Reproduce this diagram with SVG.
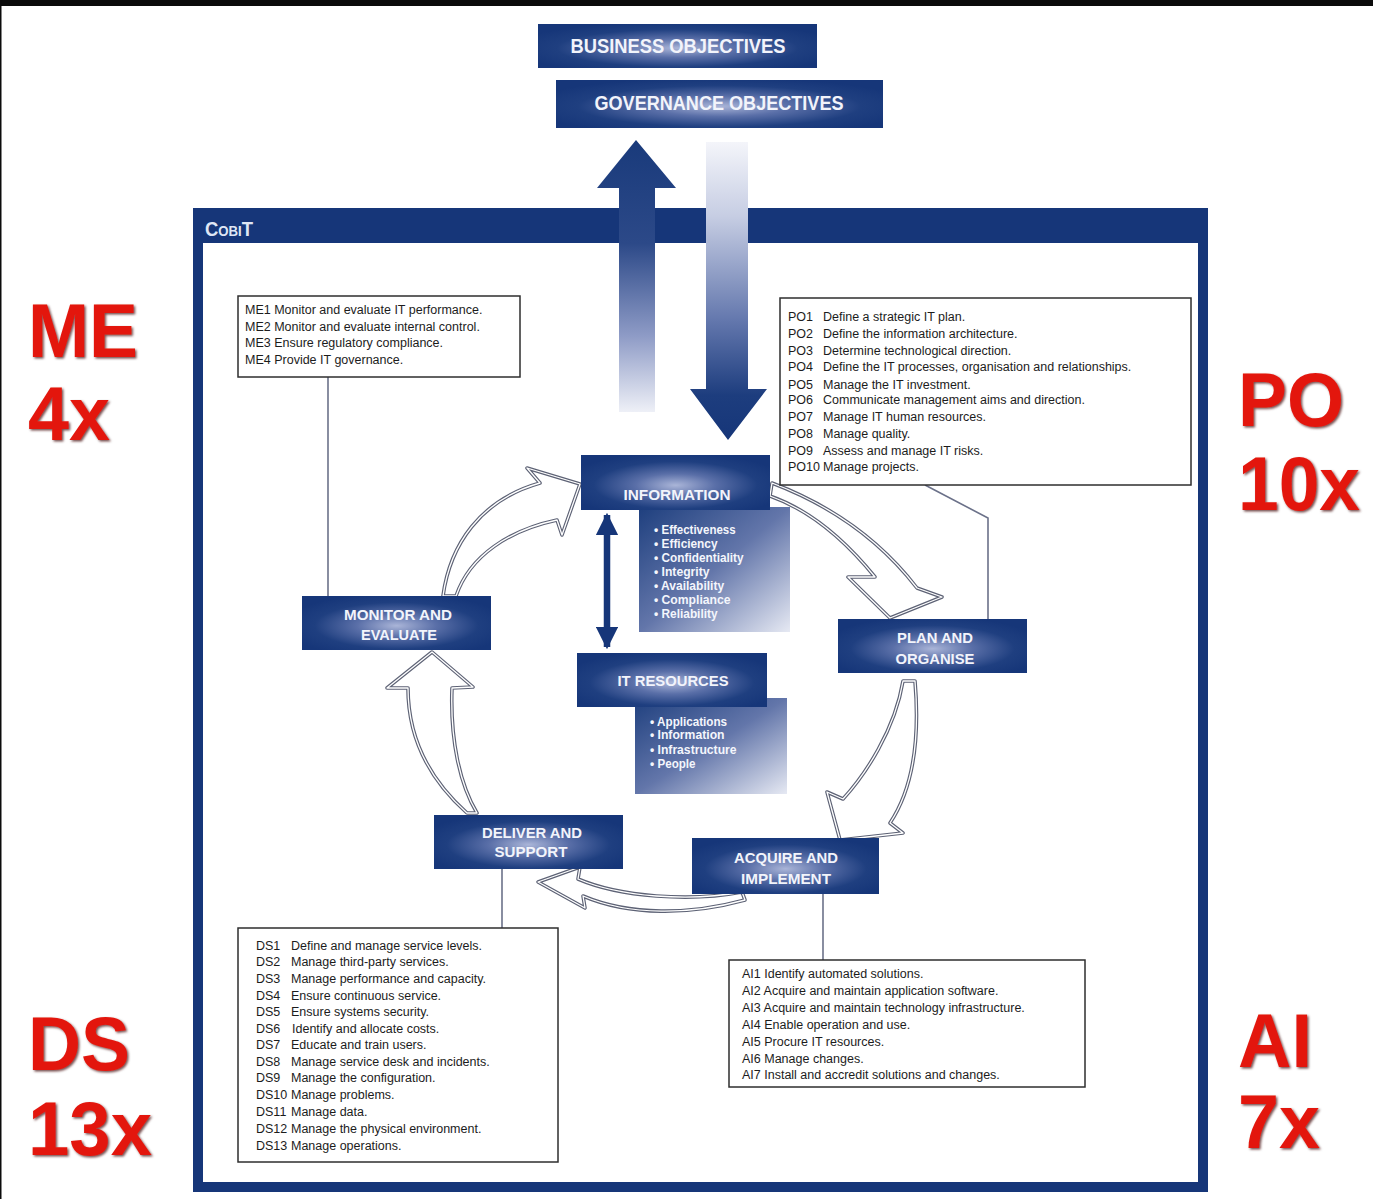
<svg xmlns="http://www.w3.org/2000/svg" width="1373" height="1199" viewBox="0 0 1373 1199">
<defs>
<radialGradient id="boxGrad" cx="50%" cy="55%" r="60%">
<stop offset="0" stop-color="#aab5d8"/>
<stop offset="0.35" stop-color="#5a6fa8"/>
<stop offset="0.72" stop-color="#1f3f80"/>
<stop offset="1" stop-color="#163679"/>
</radialGradient>
<linearGradient id="subGrad" x1="0" y1="0" x2="1" y2="1">
<stop offset="0" stop-color="#1e3f7e"/>
<stop offset="0.5" stop-color="#6376aa"/>
<stop offset="1" stop-color="#e6e9f3"/>
</linearGradient>
<linearGradient id="upGrad" gradientUnits="userSpaceOnUse" x1="0" y1="140" x2="0" y2="412">
<stop offset="0" stop-color="#193a7b"/>
<stop offset="0.38" stop-color="#2c4988"/>
<stop offset="0.72" stop-color="#8e9bc6"/>
<stop offset="1" stop-color="#eef0f7"/>
</linearGradient>
<linearGradient id="downGrad" gradientUnits="userSpaceOnUse" x1="0" y1="142" x2="0" y2="440">
<stop offset="0" stop-color="#f4f5fa"/>
<stop offset="0.25" stop-color="#c6cde3"/>
<stop offset="0.6" stop-color="#6377ad"/>
<stop offset="0.85" stop-color="#1d3d7e"/>
<stop offset="1" stop-color="#163679"/>
</linearGradient>
<filter id="shadow" x="-10%" y="-10%" width="130%" height="130%">
<feDropShadow dx="1.5" dy="1.5" stdDeviation="1" flood-color="#3a0000" flood-opacity="0.7"/>
</filter>
<marker id="dblHead" viewBox="0 0 10 10" refX="9" refY="5" markerWidth="3.4" markerHeight="3.4" orient="auto-start-reverse">
<path d="M0,0 L10,5 L0,10 Z" fill="#163679"/>
</marker>
</defs>
<style>
.navy{fill:url(#boxGrad);}
.sub{fill:url(#subGrad);}
.lbl{font-family:"Liberation Sans",Arial,sans-serif;font-weight:bold;fill:#f2f4fb;text-anchor:middle;}
.bul{font-family:"Liberation Sans",Arial,sans-serif;font-weight:bold;fill:#f4f6fc;font-size:12px;}
.list{fill:#ffffff;stroke:#2e2e2e;stroke-width:1.5;}
.lt{font-family:"Liberation Sans",Arial,sans-serif;fill:#1c1c1c;font-size:12.5px;}
.conn{fill:none;stroke:#6b7189;stroke-width:1.6;}
.cyc{fill:#ffffff;stroke:#5d6275;stroke-width:3.6;stroke-linejoin:round;}
.cycin{fill:none;stroke:#ffffff;stroke-width:1.3;stroke-linejoin:round;}
.big{font-family:"Liberation Sans",Arial,sans-serif;font-weight:bold;font-size:76px;fill:#e3170d;filter:url(#shadow);}
</style>
<rect x="0" y="0" width="1373" height="1199" fill="#ffffff"/>
<rect x="0" y="0" width="1373" height="6" fill="#0b0b0b"/>
<rect x="0" y="0" width="1.5" height="1199" fill="#0b0b0b"/>

<g id="cobit-frame">
<rect x="198" y="213" width="1005" height="974" fill="#ffffff" stroke="#163679" stroke-width="10"/>
<rect x="193" y="208" width="1015" height="35" fill="#163679"/>
<text x="205" y="236" font-family="Liberation Sans,Arial,sans-serif" font-weight="bold" font-size="21" fill="#dfe6f5" font-variant="small-caps" textLength="48" lengthAdjust="spacingAndGlyphs">CobiT</text>
</g>

<g id="labels">
<text class="big" x="28" y="357" textLength="110" lengthAdjust="spacingAndGlyphs">ME</text>
<text class="big" x="28" y="440" textLength="82" lengthAdjust="spacingAndGlyphs">4x</text>
<text class="big" x="1238" y="426" textLength="106" lengthAdjust="spacingAndGlyphs">PO</text>
<text class="big" x="1238" y="510" textLength="122" lengthAdjust="spacingAndGlyphs">10x</text>
<text class="big" x="28" y="1070" textLength="102" lengthAdjust="spacingAndGlyphs">DS</text>
<text class="big" x="28" y="1155" textLength="124" lengthAdjust="spacingAndGlyphs">13x</text>
<text class="big" x="1238" y="1067" textLength="74" lengthAdjust="spacingAndGlyphs">AI</text>
<text class="big" x="1238" y="1148" textLength="82" lengthAdjust="spacingAndGlyphs">7x</text>
</g>

<g id="connectors">
<polygon points="636,140 676,188 655,188 655,412 619,412 619,188 597,188" fill="url(#upGrad)"/>
<polygon points="706,142 748,142 748,389 767,389 728,440 690,389 706,389" fill="url(#downGrad)"/>
<line x1="607" y1="515" x2="607" y2="647" stroke="#163679" stroke-width="6.5" marker-start="url(#dblHead)" marker-end="url(#dblHead)"/>
<path class="conn" d="M328,377 L328,596"/>
<path class="conn" d="M925,485 L988,518 L988,619"/>
<path class="conn" d="M502,869 L502,928"/>
<path class="conn" d="M823,894 L823,960"/>
<path class="cyc" d="M443,596 C450,545 480,500 540,483 L527,468 L580,484 L562,535 L557,520 C510,530 470,555 456,596 Z"/>
<path class="cycin" d="M443,596 C450,545 480,500 540,483 L527,468 L580,484 L562,535 L557,520 C510,530 470,555 456,596 Z"/>
<path class="cyc" d="M772,483 C830,505 880,540 917,588 L942,597 L890,618 L848,577 L875,577 C845,540 810,510 770,496 Z"/>
<path class="cycin" d="M772,483 C830,505 880,540 917,588 L942,597 L890,618 L848,577 L875,577 C845,540 810,510 770,496 Z"/>
<path class="cyc" d="M903,681 L915,681 C920,740 912,790 890,823 L903,833 L840,840 L827,792 L843,799 C865,775 895,730 903,681 Z"/>
<path class="cycin" d="M903,681 L915,681 C920,740 912,790 890,823 L903,833 L840,840 L827,792 L843,799 C865,775 895,730 903,681 Z"/>
<path class="cyc" d="M742,892 C690,902 620,897 578,879 L580,867 L538,882 L585,908 L583,896 C630,916 690,915 745,900 Z"/>
<path class="cycin" d="M742,892 C690,902 620,897 578,879 L580,867 L538,882 L585,908 L583,896 C630,916 690,915 745,900 Z"/>
<path class="cyc" d="M467,813 C430,780 408,740 408,688 L387,688 L432,652 L473,687 L452,688 C450,740 460,785 477,813 Z"/>
<path class="cycin" d="M467,813 C430,780 408,740 408,688 L387,688 L432,652 L473,687 L452,688 C450,740 460,785 477,813 Z"/>
</g>

<g id="business-objectives">
<rect class="navy" x="538" y="24" width="279" height="44"/>
<text class="lbl" x="678" y="53" font-size="20" font-weight="normal" textLength="215" lengthAdjust="spacingAndGlyphs">BUSINESS OBJECTIVES</text>
</g>
<g id="governance-objectives">
<rect class="navy" x="556" y="80" width="327" height="48"/>
<text class="lbl" x="719" y="110" font-size="20" font-weight="normal" textLength="249" lengthAdjust="spacingAndGlyphs">GOVERNANCE OBJECTIVES</text>
</g>

<g id="information">
<rect class="sub" x="639" y="507" width="151" height="125"/>
<rect class="navy" x="581" y="455" width="189" height="55"/>
<text class="lbl" x="677" y="500" font-size="15" textLength="107" lengthAdjust="spacingAndGlyphs">INFORMATION</text>
<g class="bul">
<text x="654" y="534">• <tspan textLength="74" lengthAdjust="spacingAndGlyphs">Effectiveness</tspan></text>
<text x="654" y="548">• <tspan textLength="56" lengthAdjust="spacingAndGlyphs">Efficiency</tspan></text>
<text x="654" y="562">• <tspan textLength="82" lengthAdjust="spacingAndGlyphs">Confidentiality</tspan></text>
<text x="654" y="576">• <tspan textLength="48" lengthAdjust="spacingAndGlyphs">Integrity</tspan></text>
<text x="654" y="590">• <tspan textLength="63" lengthAdjust="spacingAndGlyphs">Availability</tspan></text>
<text x="654" y="604">• <tspan textLength="69" lengthAdjust="spacingAndGlyphs">Compliance</tspan></text>
<text x="654" y="618">• <tspan textLength="56" lengthAdjust="spacingAndGlyphs">Reliability</tspan></text>
</g>
</g>

<g id="it-resources">
<rect class="sub" x="635" y="698" width="152" height="96"/>
<rect class="navy" x="577" y="653" width="190" height="54"/>
<text class="lbl" x="673" y="686" font-size="15" textLength="111" lengthAdjust="spacingAndGlyphs">IT RESOURCES</text>
<g class="bul">
<text x="650" y="726">• <tspan textLength="70" lengthAdjust="spacingAndGlyphs">Applications</tspan></text>
<text x="650" y="739">• <tspan textLength="67" lengthAdjust="spacingAndGlyphs">Information</tspan></text>
<text x="650" y="754">• <tspan textLength="79" lengthAdjust="spacingAndGlyphs">Infrastructure</tspan></text>
<text x="650" y="768">• <tspan textLength="38" lengthAdjust="spacingAndGlyphs">People</tspan></text>
</g>
</g>

<g id="monitor-evaluate">
<rect class="navy" x="302" y="596" width="189" height="54"/>
<text class="lbl" x="398" y="620" font-size="15" textLength="108" lengthAdjust="spacingAndGlyphs">MONITOR AND</text>
<text class="lbl" x="399" y="640" font-size="15" textLength="76" lengthAdjust="spacingAndGlyphs">EVALUATE</text>
</g>

<g id="plan-organise">
<rect class="navy" x="838" y="619" width="189" height="54"/>
<text class="lbl" x="935" y="643" font-size="15" textLength="76" lengthAdjust="spacingAndGlyphs">PLAN AND</text>
<text class="lbl" x="935" y="664" font-size="15" textLength="79" lengthAdjust="spacingAndGlyphs">ORGANISE</text>
</g>

<g id="deliver-support">
<rect class="navy" x="434" y="815" width="189" height="54"/>
<text class="lbl" x="532" y="838" font-size="15" textLength="100" lengthAdjust="spacingAndGlyphs">DELIVER AND</text>
<text class="lbl" x="531" y="857" font-size="15" textLength="73" lengthAdjust="spacingAndGlyphs">SUPPORT</text>
</g>

<g id="acquire-implement">
<rect class="navy" x="692" y="838" width="187" height="56"/>
<text class="lbl" x="786" y="863" font-size="15" textLength="104" lengthAdjust="spacingAndGlyphs">ACQUIRE AND</text>
<text class="lbl" x="786" y="884" font-size="15" textLength="90" lengthAdjust="spacingAndGlyphs">IMPLEMENT</text>
</g>

<g id="me-list">
<rect class="list" x="238" y="296" width="282" height="81"/>
<text class="lt" x="245" y="314">ME1 Monitor and evaluate IT performance.</text>
<text class="lt" x="245" y="331">ME2 Monitor and evaluate internal control.</text>
<text class="lt" x="245" y="347">ME3 Ensure regulatory compliance.</text>
<text class="lt" x="245" y="364" font-size="11.5">ME4 Provide IT governance.</text>
</g>

<g id="po-list">
<rect class="list" x="780" y="298" width="411" height="187"/>
<g class="lt">
<text x="788" y="321">PO1</text><text x="823" y="321">Define a strategic IT plan.</text>
<text x="788" y="338">PO2</text><text x="823" y="338">Define the information architecture.</text>
<text x="788" y="355">PO3</text><text x="823" y="355">Determine technological direction.</text>
<text x="788" y="371">PO4</text><text x="823" y="371">Define the IT processes, organisation and relationships.</text>
<text x="788" y="389">PO5</text><text x="823" y="389">Manage the IT investment.</text>
<text x="788" y="404">PO6</text><text x="823" y="404">Communicate management aims and direction.</text>
<text x="788" y="421">PO7</text><text x="823" y="421">Manage IT human resources.</text>
<text x="788" y="438">PO8</text><text x="823" y="438">Manage quality.</text>
<text x="788" y="455">PO9</text><text x="823" y="455">Assess and manage IT risks.</text>
<text x="788" y="471">PO10</text><text x="823" y="471">Manage projects.</text>
</g>
</g>

<g id="ds-list">
<rect class="list" x="238" y="928" width="320" height="234"/>
<g class="lt">
<text x="256" y="950">DS1</text><text x="291" y="950">Define and manage service levels.</text>
<text x="256" y="966">DS2</text><text x="291" y="966">Manage third-party services.</text>
<text x="256" y="983">DS3</text><text x="291" y="983">Manage performance and capacity.</text>
<text x="256" y="1000">DS4</text><text x="291" y="1000">Ensure continuous service.</text>
<text x="256" y="1016">DS5</text><text x="291" y="1016">Ensure systems security.</text>
<text x="256" y="1033">DS6</text><text x="292" y="1033">Identify and allocate costs.</text>
<text x="256" y="1049">DS7</text><text x="291" y="1049">Educate and train users.</text>
<text x="256" y="1066">DS8</text><text x="291" y="1066">Manage service desk and incidents.</text>
<text x="256" y="1082">DS9</text><text x="291" y="1082">Manage the configuration.</text>
<text x="256" y="1099">DS10</text><text x="291" y="1099">Manage problems.</text>
<text x="256" y="1116">DS11</text><text x="291" y="1116">Manage data.</text>
<text x="256" y="1133">DS12</text><text x="291" y="1133">Manage the physical environment.</text>
<text x="256" y="1150">DS13</text><text x="291" y="1150">Manage operations.</text>
</g>
</g>

<g id="ai-list">
<rect class="list" x="729" y="960" width="356" height="127"/>
<g class="lt">
<text x="742" y="978">AI1 Identify automated solutions.</text>
<text x="742" y="995">AI2 Acquire and maintain application software.</text>
<text x="742" y="1012">AI3 Acquire and maintain technology infrastructure.</text>
<text x="742" y="1029">AI4 Enable operation and use.</text>
<text x="742" y="1046">AI5 Procure IT resources.</text>
<text x="742" y="1063">AI6 Manage changes.</text>
<text x="742" y="1079">AI7 Install and accredit solutions and changes.</text>
</g>
</g>
</svg>
